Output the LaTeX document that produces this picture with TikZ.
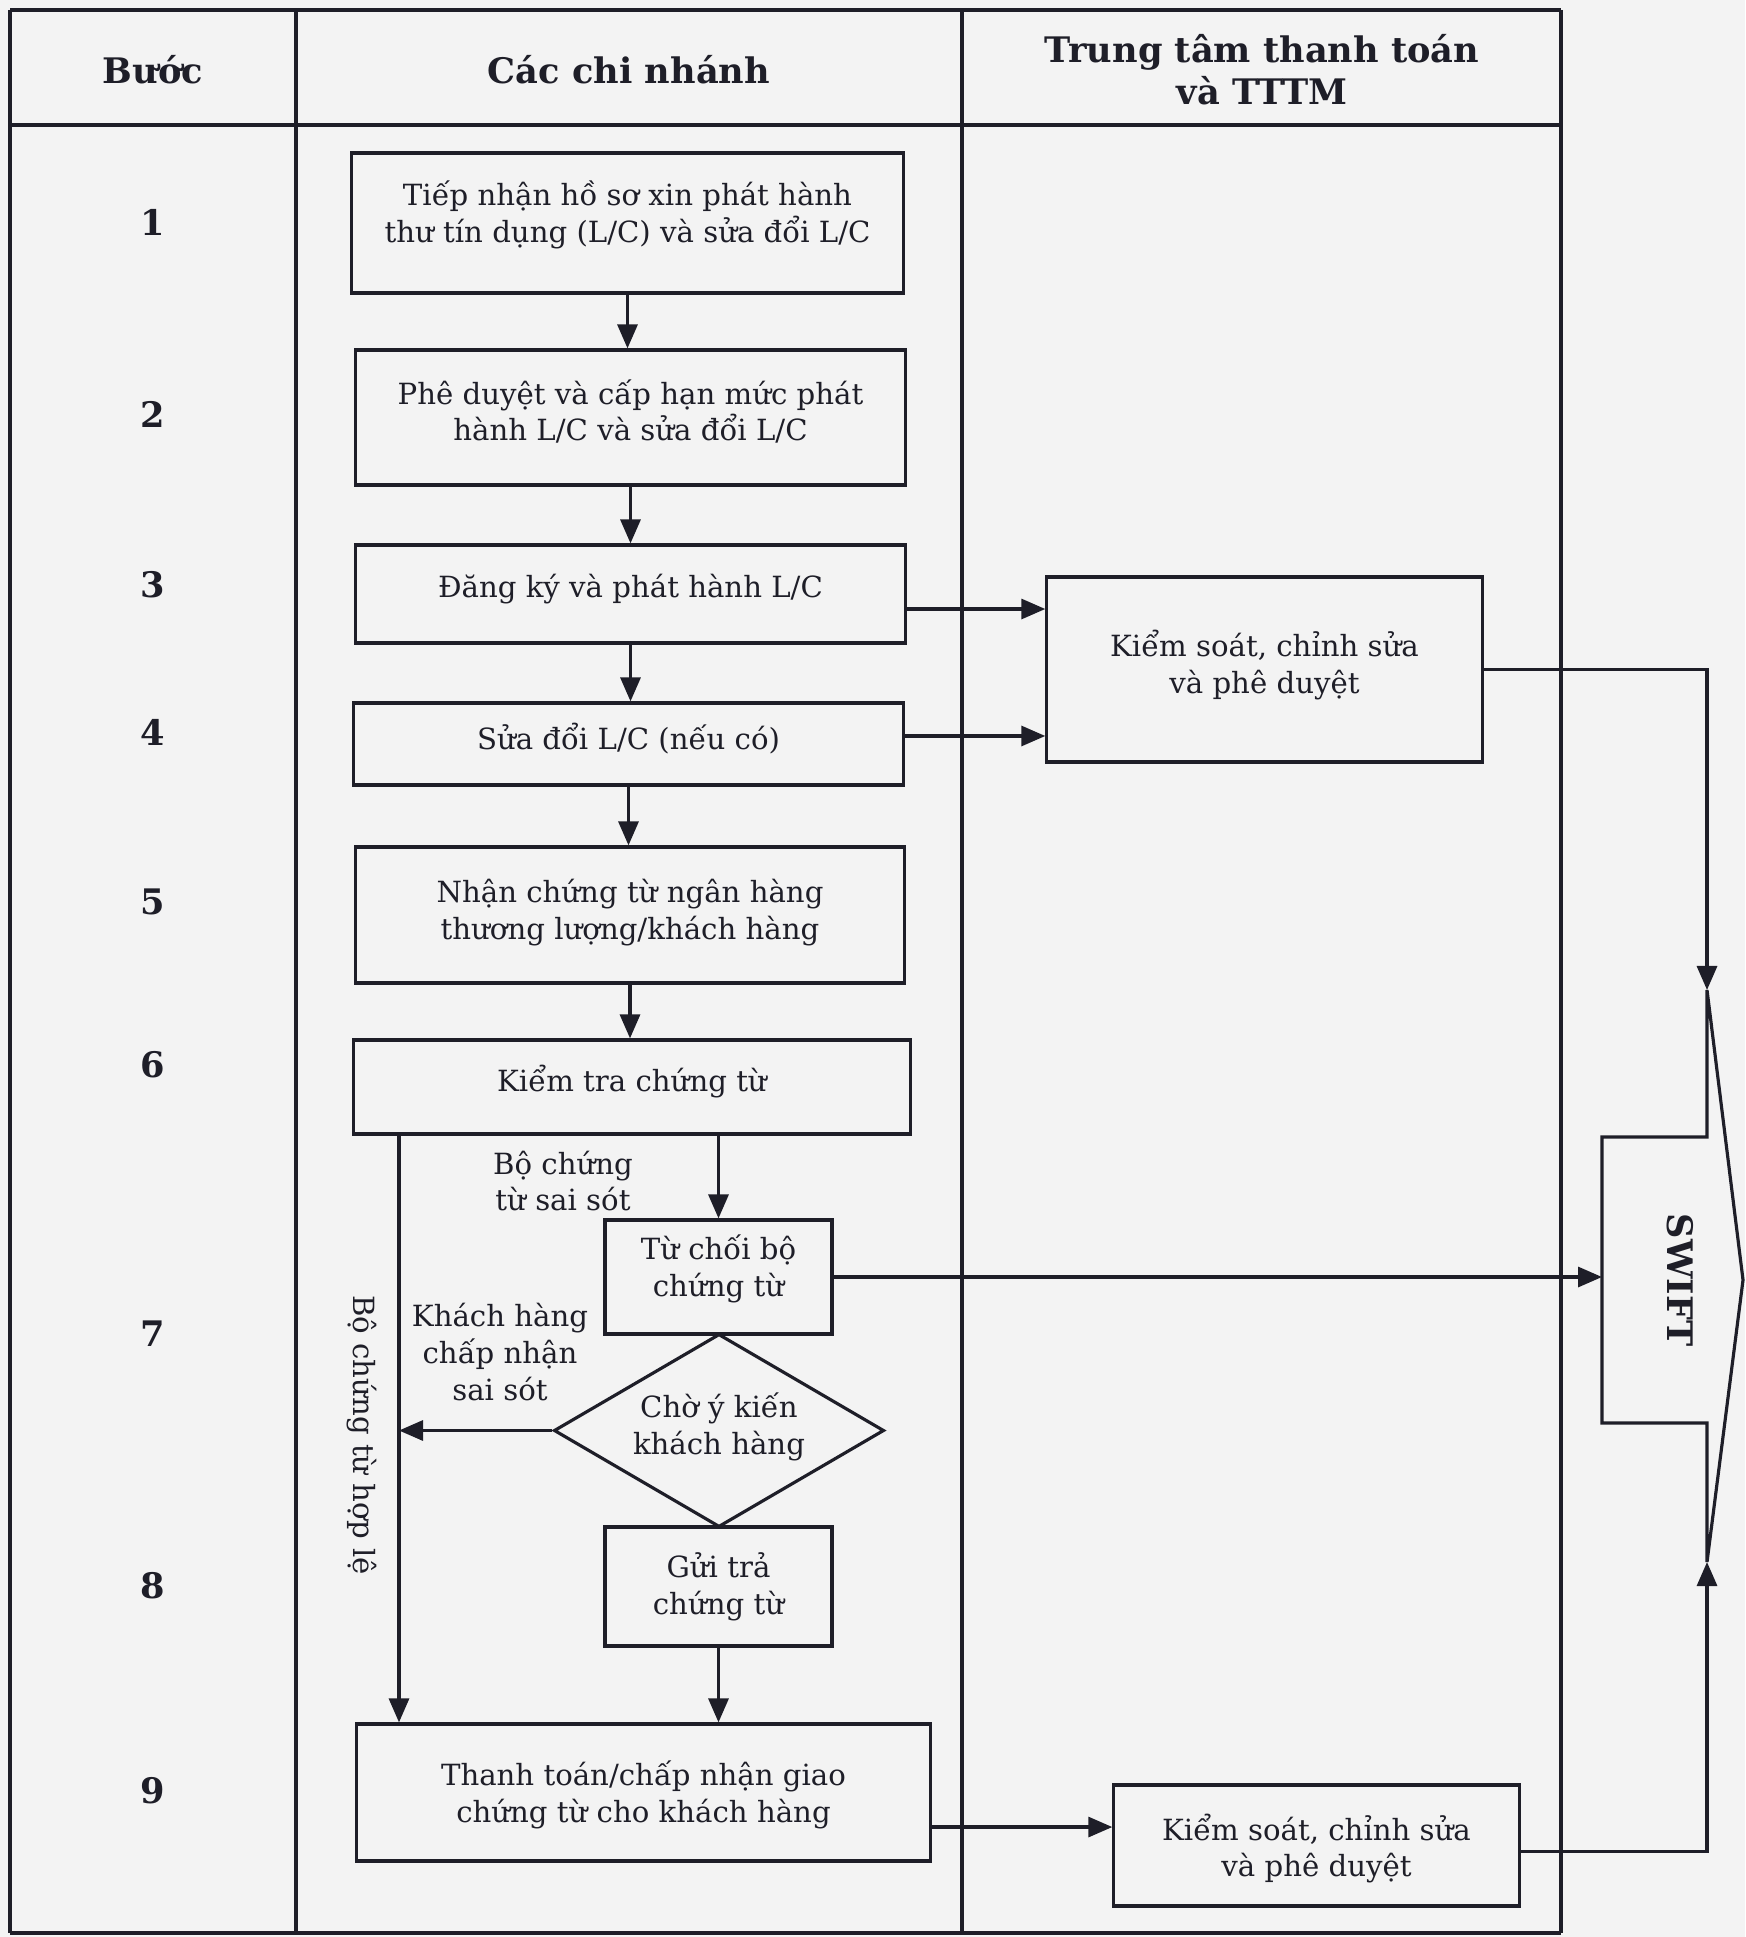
\documentclass[tikz,border=0pt]{standalone}
\usepackage{fontspec}
\setmainfont{DejaVu Serif}
\usetikzlibrary{arrows.meta,shapes.geometric}
\definecolor{bgc}{RGB}{243,243,243}
\definecolor{linec}{RGB}{30,30,40}
\newcommand\boxfont{\fontsize{8.3}{10.5}\selectfont}
\newcommand\headfont{\fontsize{10}{12}\selectfont\bfseries}
\tikzset{
  box/.style={draw=linec, line width=0.9pt, align=center, inner sep=0pt, font=\boxfont, text=linec},
  lbl/.style={align=center, inner sep=0pt, font=\boxfont, text=linec},
  head/.style={align=center, inner sep=0pt, font=\headfont, text=linec},
  stepnum/.style={inner sep=0pt, font=\headfont, text=linec},
  arr/.style={draw=linec, line width=0.9pt, -{Triangle[length=0.24cm,width=0.2cm]}},
  tbl/.style={draw=linec, line width=0.9pt},
  tblthick/.style={draw=linec, line width=1.4pt},
}
\begin{document}
\begin{tikzpicture}[x=0.01cm,y=-0.01cm]
\useasboundingbox (0,0) rectangle (1745,1937);
\fill[bgc] (0,0) rectangle (1745,1937);
% table
\draw[tblthick] (10,10) -- (1561,10);
\draw[tblthick] (10,125) -- (1561,125);
\draw[tbl] (10,1933) -- (1561,1933);
\draw[tbl] (10,10) -- (10,1933);
\draw[tbl] (296,10) -- (296,1933);
\draw[tbl] (962,10) -- (962,1933);
\draw[tbl] (1561,10) -- (1561,1933);
% header
\node[head] (h1) at (153,70) {Bước};
\node[head] (h2) at (629,70) {Các chi nhánh};
\node[head] (h3) at (1262,70) {Trung tâm thanh toán\\và TTTM};
% step numbers
\node[stepnum] (s1) at (153,222) {1};
\node[stepnum] (s2) at (153,414) {2};
\node[stepnum] (s3) at (153,585) {3};
\node[stepnum] (s4) at (153,732) {4};
\node[stepnum] (s5) at (153,902) {5};
\node[stepnum] (s6) at (153,1065) {6};
\node[stepnum] (s7) at (153,1334) {7};
\node[stepnum] (s8) at (153,1586) {8};
\node[stepnum] (s9) at (153,1791) {9};
% boxes
\node[box, minimum width=5.51cm, minimum height=1.40cm,
  label={[lbl, yshift=0.08cm]center:{Tiếp nhận hồ sơ xin phát hành\\thư tín dụng (L/C) và sửa đổi L/C}}] (b1) at (627.5,223) {};
\node[box, minimum width=5.49cm, minimum height=1.35cm,
  label={[lbl, yshift=0.06cm]center:{Phê duyệt và cấp hạn mức phát\\hành L/C và sửa đổi L/C}}] (b2) at (630.5,417.5) {};
\node[box, minimum width=5.49cm, minimum height=0.98cm,
  label={[lbl, yshift=0.05cm]center:{Đăng ký và phát hành L/C}}] (b3) at (630.5,594) {};
\node[box, minimum width=5.49cm, minimum height=0.82cm,
  label={[lbl, yshift=0.05cm]center:{Sửa đổi L/C (nếu có)}}] (b4) at (628.5,744) {};
\node[box, minimum width=5.48cm, minimum height=1.36cm,
  label={[lbl, yshift=0.02cm]center:{Nhận chứng từ ngân hàng\\thương lượng/khách hàng}}] (b5) at (630,915) {};
\node[box, minimum width=5.56cm, minimum height=0.94cm,
  label={[lbl, yshift=0.05cm]center:{Kiểm tra chứng từ}}] (b6) at (632,1087) {};
\node[box, minimum width=2.27cm, minimum height=1.14cm,
  label={[lbl, yshift=0.08cm]center:{Từ chối bộ\\chứng từ}}] (b7) at (718.5,1277) {};
\node[box, diamond, shape aspect=1.7, minimum width=3.30cm, minimum height=1.93cm,
  label={[lbl, yshift=0.04cm]center:{Chờ ý kiến\\khách hàng}}] (d) at (719,1430.5) {};
\node[box, minimum width=2.27cm, minimum height=1.19cm,
  label={[lbl]center:{Gửi trả\\chứng từ}}] (b8) at (718.5,1586.5) {};
\node[box, minimum width=5.73cm, minimum height=1.37cm,
  label={[lbl, yshift=-0.02cm]center:{Thanh toán/chấp nhận giao\\chứng từ cho khách hàng}}] (b9) at (643.5,1792.5) {};
\node[box, minimum width=4.35cm, minimum height=1.85cm,
  label={[lbl, yshift=0.04cm]center:{Kiểm soát, chỉnh sửa\\và phê duyệt}}] (k1) at (1264.5,669.5) {};
\node[box, minimum width=4.05cm, minimum height=1.21cm,
  label={[lbl, yshift=-0.03cm]center:{Kiểm soát, chỉnh sửa\\và phê duyệt}}] (k2) at (1316.5,1845.5) {};
% labels
\node[lbl] (l1) at (563,1181) {Bộ chứng\\từ sai sót};
\node[lbl] (l2) at (500,1352) {Khách hàng\\chấp nhận\\sai sót};
\node[lbl, rotate=-90] (l3) at (362,1435) {Bộ chứng từ hợp lệ};
% SWIFT
\coordinate (st) at (1707,990);
\coordinate (sb) at (1707,1562);
\coordinate (sl) at (1602,1280);
\coordinate (lx) at (399,0);
\draw[tbl] (1602,1137) -- (1707,1137) -- (st) -- (1743,1280) -- (sb) -- (1707,1423) -- (1602,1423) -- cycle;
\node[head, rotate=-90] (sw) at (1680,1280) {SWIFT};
% connectors
\draw[arr] (b1.south) -- (b1.south |- b2.north);
\draw[arr] (b2.south) -- (b2.south |- b3.north);
\draw[arr] (b3.south) -- (b3.south |- b4.north);
\draw[arr] (b4.south) -- (b4.south |- b5.north);
\draw[arr] (b5.south) -- (b5.south |- b6.north);
\draw[arr] (b6.south -| b7.north) -- (b7.north);
\draw[arr] (b8.south) -- (b8.south |- b9.north);
\draw[arr] (b6.south -| lx) -- (b9.north -| lx);
\draw[arr] (d.west) -- (d.west -| lx);
\draw[arr] ([yshift=-0.15cm]b3.east) -- ([yshift=-0.15cm]b3.east -| k1.west);
\draw[arr] ([yshift=0.08cm]b4.east) -- ([yshift=0.08cm]b4.east -| k1.west);
\draw[arr] ([yshift=-0.345cm]b9.east) -- ([yshift=-0.345cm]b9.east -| k2.west);
\draw[arr] (b7.east) -- (b7.east -| sl);
\draw[arr] (k1.east) -| (st);
\draw[arr] ([yshift=-0.06cm]k2.east) -| (sb);
\end{tikzpicture}
\end{document}
